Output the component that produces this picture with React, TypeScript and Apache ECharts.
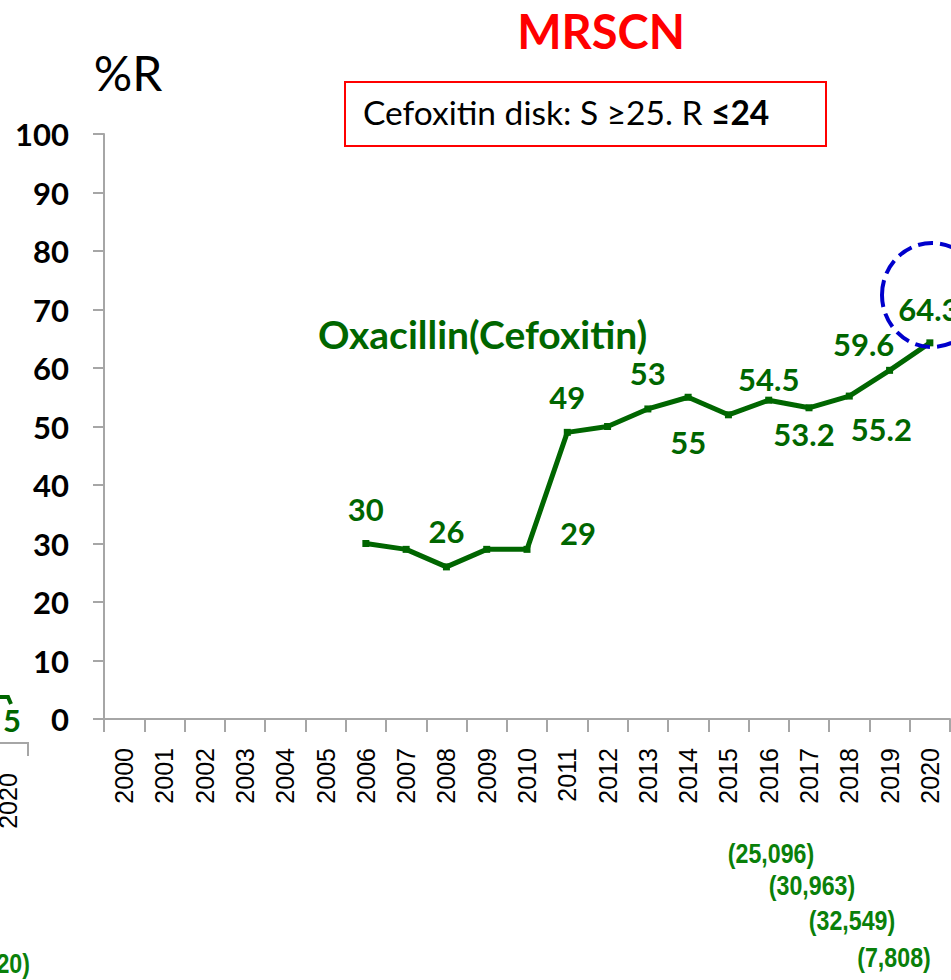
import React, { useEffect, useRef } from "react";
import * as echarts from "echarts";

// ---- data ----
const years = [
  "2000", "2001", "2002", "2003", "2004", "2005", "2006", "2007", "2008", "2009", "2010",
  "2011", "2012", "2013", "2014", "2015", "2016", "2017", "2018", "2019", "2020",
];
const resistancePct: (number | null)[] = [
  null, null, null, null, null, null, 30, 29, 26, 29, 29,
  49, 50, 53, 55, 52, 54.5, 53.2, 55.2, 59.6, 64.3,
];
const yTicks = { min: 0, max: 100, interval: 10 };
const seriesName = "Oxacillin(Cefoxitin)";
const chartTitle = "MRSCN";
const breakpointNote = "Cefoxitin disk: S ≥25. R ";
const breakpointBold = "≤24";
const isolateCounts = ["(25,096)", "(30,963)", "(32,549)", "(7,808)"];

// ---- layout (label placement relative to the point, in px) ----
const labelOffsets: Record<number, [number, number]> = {
  6: [0, -35],
  8: [0, -36],
  10: [51, -16],
  11: [0, -35],
  13: [0, -36],
  14: [0, 45],
  16: [0, -21],
  17: [-5, 26],
  18: [32, 33],
  19: [-26, -26],
  20: [-1, -34],
};
const countPositions: [number, number][] = [
  [771, 853],
  [812, 885],
  [852, 920],
  [894, 957],
];

const GREEN = "#006600";
const COUNT_GREEN = "#0a800a";
const AXIS_GREY = "#a6a6a6";
const LATO = "Lato, Carlito, 'Open Sans', sans-serif";
const ARIAL = "'Liberation Sans', Arial, sans-serif";
const NARROW_SCALE = 0.86;

export default function App() {
  const ref = useRef<HTMLDivElement>(null);
  useEffect(() => {
    if (!ref.current) return;
    const chart = echarts.init(ref.current, undefined, { renderer: "svg" });

    const data = resistancePct.map((v, i) => {
      if (v == null) return "-";
      const off = labelOffsets[i];
      return {
        value: v,
        label: off
          ? { show: true, offset: off, formatter: String(v) }
          : { show: false },
      };
    });

    chart.setOption({
      animation: false,
      backgroundColor: "#ffffff",
      grid: { left: 104, right: 1, top: 134, bottom: 261, containLabel: false },
      xAxis: {
        type: "category",
        data: years,
        boundaryGap: true,
        axisLine: { show: true, lineStyle: { color: AXIS_GREY, width: 2 } },
        axisTick: { show: true, length: 13, inside: false, lineStyle: { color: AXIS_GREY, width: 2 } },
        axisLabel: {
          rotate: 90,
          interval: 0,
          margin: 29,
          color: "#000",
          fontSize: 25,
          fontFamily: ARIAL,
        },
        splitLine: { show: false },
      },
      yAxis: {
        type: "value",
        min: yTicks.min,
        max: yTicks.max,
        interval: yTicks.interval,
        axisLine: { show: true, lineStyle: { color: AXIS_GREY, width: 2 } },
        axisTick: { show: true, length: 11, lineStyle: { color: AXIS_GREY, width: 2 } },
        axisLabel: {
          margin: 35,
          color: "#000",
          fontSize: 31,
          fontWeight: "bold",
          fontFamily: LATO,
        },
        splitLine: { show: false },
      },
      series: [
        {
          type: "line",
          name: seriesName,
          data,
          connectNulls: false,
          symbol: "rect",
          symbolSize: 7,
          showAllSymbol: true,
          lineStyle: { color: GREEN, width: 5 },
          itemStyle: { color: GREEN },
          label: {
            show: false,
            position: "inside",
            align: "center",
            verticalAlign: "middle",
            color: GREEN,
            fontSize: 31,
            fontWeight: "bold",
            fontFamily: LATO,
          },
          z: 3,
        },
      ],
      graphic: [
        {
          type: "text",
          x: 601,
          y: 31,
          style: {
            text: chartTitle,
            fill: "#ff0000",
            font: `bold 47px ${LATO}`,
            align: "center",
            verticalAlign: "middle",
          },
        },
        {
          type: "rect",
          shape: { x: 345, y: 82, width: 481, height: 64 },
          style: { fill: "#ffffff", stroke: "#ff0000", lineWidth: 2 },
        },
        {
          type: "text",
          x: 363,
          y: 112,
          style: {
            text: breakpointNote + "{b|" + breakpointBold + "}",
            fill: "#000",
            font: `33.5px ${LATO}`,
            verticalAlign: "middle",
            rich: { b: { fontWeight: "bold", fontSize: 33.5, fontFamily: LATO, fill: "#000" } },
          },
        },
        {
          type: "text",
          x: 128,
          y: 72,
          style: {
            text: "%R",
            fill: "#000",
            font: `48px ${LATO}`,
            align: "center",
            verticalAlign: "middle",
          },
        },
        {
          type: "text",
          x: 318,
          y: 334,
          style: {
            text: seriesName,
            fill: GREEN,
            font: `bold 39px ${LATO}`,
            verticalAlign: "middle",
          },
        },
        {
          type: "ellipse",
          shape: { cx: 932, cy: 295, rx: 50, ry: 52 },
          style: { fill: "none", stroke: "#0000cc", lineWidth: 4, lineDash: [15, 7] },
          z: 10,
        },
        ...isolateCounts.map((t, i) => ({
          type: "text",
          x: countPositions[i][0],
          y: countPositions[i][1],
          scaleX: NARROW_SCALE,
          style: {
            text: t,
            fill: COUNT_GREEN,
            font: `bold 27px ${ARIAL}`,
            align: "center",
            verticalAlign: "middle",
          },
        })),
        // fragments of the neighbouring panel at the left edge
        {
          type: "text",
          x: 12,
          y: 720,
          style: { text: "5", fill: GREEN, font: `bold 31px ${LATO}`, align: "center", verticalAlign: "middle" },
        },
        {
          type: "polyline",
          shape: { points: [[0, 697], [8, 697], [11, 704]] },
          style: { stroke: GREEN, lineWidth: 4, fill: "none" },
        },
        {
          type: "polyline",
          shape: { points: [[0, 743], [28, 743], [28, 756]] },
          style: { stroke: AXIS_GREY, lineWidth: 2, fill: "none" },
        },
        {
          type: "text",
          x: 8,
          y: 801,
          rotation: Math.PI / 2,
          style: { text: "2020", fill: "#000", font: `25px ${ARIAL}`, align: "center", verticalAlign: "middle" },
        },
        {
          type: "text",
          x: 30,
          y: 963,
          scaleX: NARROW_SCALE,
          style: { text: "20)", fill: COUNT_GREEN, font: `bold 27px ${ARIAL}`, align: "right", verticalAlign: "middle" },
        },
      ],
    });
    return () => chart.dispose();
  }, []);
  return (
    <div
      ref={ref}
      style={{ position: "fixed", left: 0, top: 0, width: 951, height: 980, background: "#fff" }}
    />
  );
}
